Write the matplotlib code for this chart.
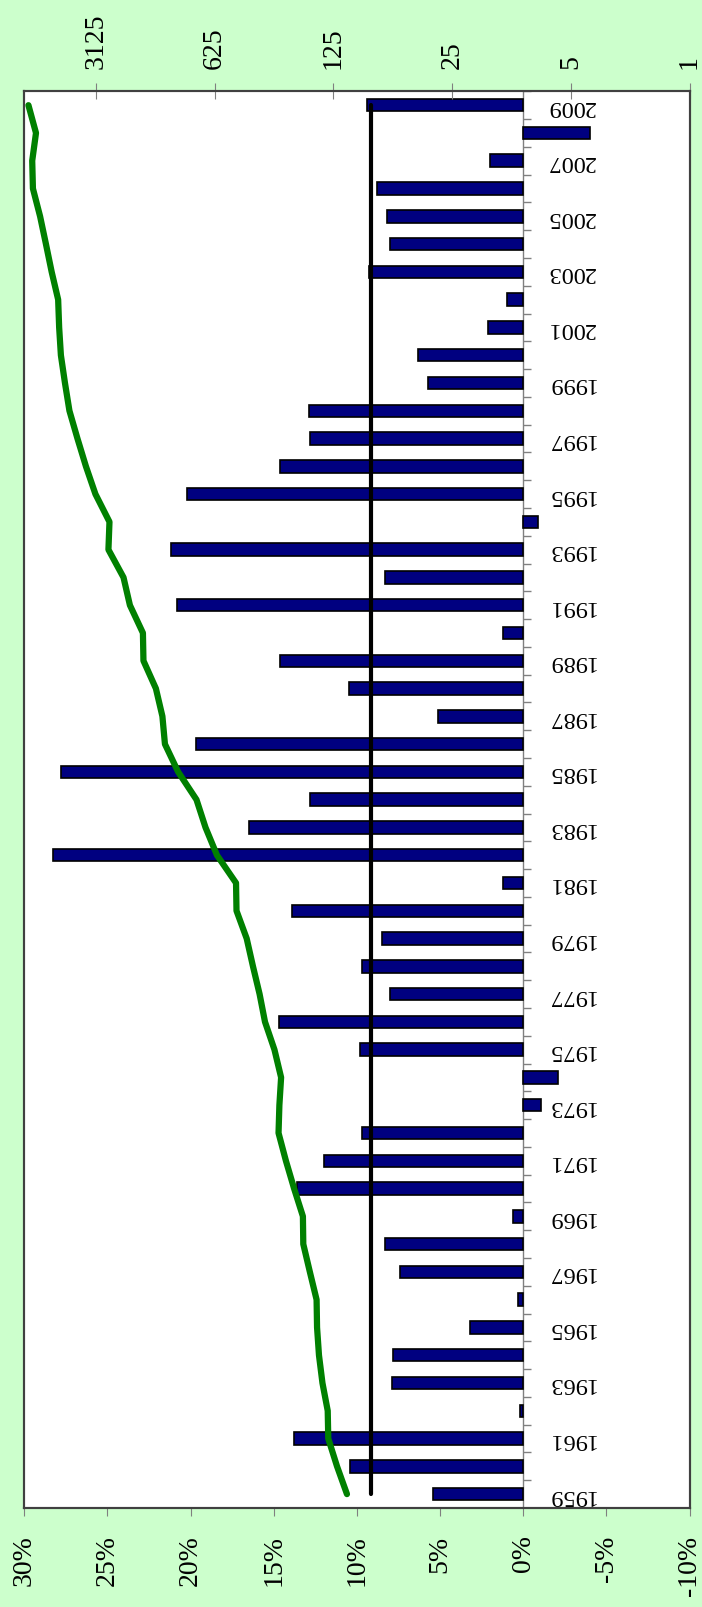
import matplotlib
matplotlib.use('Agg')
import matplotlib.pyplot as plt
from matplotlib.ticker import NullLocator
import numpy as np

# rendement annuel (%) et croissance cumulée (échelle log base 5), 1959-2009
years = list(range(1959, 2010))
returns = [5.4, 10.4, 13.8, 0.2, 7.9, 7.8, 3.2, 0.3, 7.4, 8.3,
           0.6, 13.6, 12.0, 9.7, -1.1, -2.1, 9.8, 14.7, 8.0, 9.7,
           8.5, 13.9, 1.2, 28.3, 16.5, 12.8, 27.8, 19.7, 5.1, 10.5,
           14.6, 1.2, 20.8, 8.3, 21.2, -0.9, 20.2, 14.6, 12.8, 12.9,
           5.7, 6.3, 2.1, 1.0, 9.3, 8.0, 8.2, 8.8, 2.0, -4.0,
           9.4]
growth = [104, 119, 134, 135, 145, 152, 156, 157, 172, 188,
          189, 213, 238, 263, 260, 254, 278, 316, 340, 372,
          405, 465, 468, 606, 708, 800, 1026, 1227, 1270, 1387,
          1642, 1654, 1973, 2152, 2640, 2603, 3149, 3583, 4018, 4480,
          4760, 5030, 5150, 5220, 5700, 6160, 6670, 7350, 7420, 7050,
          7810]
avg_return = 9.15

pct_ticks = [30, 25, 20, 15, 10, 5, 0, -5, -10]
log_ticks = [1, 5, 25, 125, 625, 3125]

plt.rcParams['font.family'] = ['Liberation Serif', 'DejaVu Serif']

W, H = 702, 1608
fig = plt.figure(figsize=(W / 100, H / 100), dpi=100, facecolor='#CCFFCC')
left, right, top, bottom = 24.3, 689.5, 92.3, 1509
ax = fig.add_axes([left / W, 1 - bottom / H, (right - left) / W, (bottom - top) / H])
ax.set_facecolor('white')

pos = np.arange(len(years))
ax.barh(pos, returns, height=0.45, color='#000080', edgecolor='black',
        linewidth=1.2, zorder=2)
ax.plot([avg_return] * len(years), pos, color='black', lw=3,
        solid_capstyle='round', zorder=3)

# axe des catégories sur le 0 %
ax.axvline(0, color='#808080', lw=1, zorder=1)
ax.hlines(np.arange(-0.5, len(years)), 0, -0.48, color='#808080', lw=1, zorder=1)
for i, y in enumerate(years):
    if (y - 1959) % 2 == 0:
        ax.annotate(str(y), xy=(0, i), xytext=(34, 0), textcoords='offset points',
                    rotation=180, ha='center', va='center', fontsize=17.5)

ax.set_xlim(30, -10)
ax.set_yticks([])
ax.set_xticks(pct_ticks)
ax.set_xticklabels([f'{t}%' for t in pct_ticks], rotation=90, fontsize=20)
ax.tick_params(axis='x', direction='out', length=6, color='#808080', pad=13)

# courbe de croissance cumulée sur l'axe log du haut
ax2 = ax.twiny()
ax2.set_xscale('log', base=5)
ax2.plot(growth, pos, color='#008000', lw=4.5, solid_capstyle='round',
         solid_joinstyle='round', zorder=4)
ax2.set_xlim(5 ** 5.604, 1)
ax2.set_xticks(log_ticks)
ax2.set_xticklabels([str(t) for t in log_ticks], rotation=90, fontsize=20)
ax2.xaxis.set_minor_locator(NullLocator())
ax2.tick_params(axis='x', which='major', direction='inout', length=12,
                color='#808080', pad=11)

ax.set_ylim(-0.5, len(years) - 0.5)
ax2.set_ylim(-0.5, len(years) - 0.5)

for a in (ax, ax2):
    for s in a.spines.values():
        s.set_color('#404040')
        s.set_linewidth(1.5)

fig.savefig('out.png', dpi=100, facecolor=fig.get_facecolor())
